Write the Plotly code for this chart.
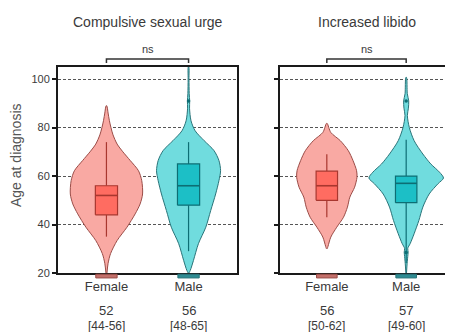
import plotly.graph_objects as go

# ---------------- data ----------------
panels = ["Compulsive sexual urge", "Increased libido"]
groups = ["Female", "Male"]

# violin outline profiles: age -> half width (x units)
csu_f_age = [20, 24, 28, 33.4, 38.9, 44.4, 48.5, 52.6, 58.1, 62.2, 66.4, 70, 73.2, 77, 80, 83, 86, 89]
csu_f_hw = [0.006, 0.02, 0.05, 0.13, 0.25, 0.35, 0.41, 0.44, 0.43, 0.39, 0.29, 0.2, 0.13, 0.08, 0.055, 0.035, 0.02, 0.004]
csu_m_age = [20, 21, 25.2, 32.1, 38.9, 45.8, 52.6, 58.1, 62.2, 66.4, 70.5, 74.6, 78.7, 82.8, 88, 91, 94, 100, 105]
csu_m_hw = [0.004, 0.02, 0.06, 0.12, 0.21, 0.27, 0.33, 0.37, 0.39, 0.37, 0.31, 0.19, 0.08, 0.03, 0.012, 0.014, 0.008, 0.005, 0.003]
il_f_age = [30, 31, 34.8, 38.9, 43, 47.2, 51.3, 55.4, 59.5, 62.2, 66.4, 70.5, 74.6, 78, 81.7]
il_f_hw = [0.005, 0.015, 0.05, 0.125, 0.21, 0.26, 0.29, 0.35, 0.38, 0.375, 0.33, 0.27, 0.17, 0.05, 0.005]
il_m_age = [20, 24, 27.5, 28.6, 30.2, 32.1, 36.2, 41.7, 47.2, 52.6, 56.8, 59.2, 61.6, 65, 69.1, 74.6, 80, 85, 88, 91, 94, 100.7]
il_m_hw = [0.004, 0.012, 0.022, 0.025, 0.02, 0.05, 0.10, 0.16, 0.21, 0.29, 0.40, 0.47, 0.42, 0.31, 0.21, 0.10, 0.04, 0.015, 0.028, 0.032, 0.014, 0.004]

# box statistics [Female, Male]
csu_low = [35, 29]
csu_q1 = [44, 48]
csu_med = [52, 56]
csu_q3 = [56, 65]
csu_up = [74, 74]
il_low = [43, 24]
il_q1 = [50, 49]
il_med = [56, 57]
il_q3 = [62, 60]
il_up = [69, 75]

csu_out_x = [1]
csu_out_y = [91]
il_out_x = [1, 1]
il_out_y = [91, 28.5]

csu_medians = ["52", "56"]
csu_iqr = ["[44-56]", "[48-65]"]
il_medians = ["56", "57"]
il_iqr = ["[50-62]", "[49-60]"]
sig_labels = ["ns", "ns"]
y_ticks = [20, 40, 60, 80, 100]

# ---------------- style ----------------
violin_fill = ["#F9A9A3", "#70DCDE"]
violin_line = ["#9A4C47", "#2A7479"]
box_fill = ["#FF6C61", "#1CBFC6"]
box_line = ["#A8372F", "#0D6E74"]
bar_fill = ["#C4706B", "#2E8C93"]
FONT = "Liberation Sans, Arial, sans-serif"
TXT = "#3a3a3a"
BOX_HALF = 0.135

# the page body has an 8px margin, so the figure is laid out 8px up/left
W, H = 445, 324
OFF = 8

fig = go.Figure()

profiles = [[(csu_f_age, csu_f_hw), (csu_m_age, csu_m_hw)],
            [(il_f_age, il_f_hw), (il_m_age, il_m_hw)]]
stats = [(csu_low, csu_q1, csu_med, csu_q3, csu_up), (il_low, il_q1, il_med, il_q3, il_up)]
outs = [(csu_out_x, csu_out_y), (il_out_x, il_out_y)]
axes = [("x", "y"), ("x2", "y2")]

for p in range(2):
    xa, ya = axes[p]
    for g in range(2):
        ages, hw = profiles[p][g]
        xs = [g + w for w in hw] + [g - w for w in reversed(hw)]
        ys = list(ages) + list(reversed(ages))
        fig.add_trace(go.Scatter(x=xs, y=ys, mode="lines", fill="toself",
                                 fillcolor=violin_fill[g],
                                 line=dict(color=violin_line[g], width=1, shape="spline", smoothing=0.8),
                                 xaxis=xa, yaxis=ya, showlegend=False, hoverinfo="skip"))
        low, q1, med, q3, up = stats[p]
        # whiskers
        fig.add_trace(go.Scatter(x=[g, g, None, g, g], y=[low[g], q1[g], None, q3[g], up[g]],
                                 mode="lines", line=dict(color=box_line[g], width=1.2),
                                 xaxis=xa, yaxis=ya, showlegend=False, hoverinfo="skip"))
        # box
        fig.add_trace(go.Scatter(x=[g - BOX_HALF, g + BOX_HALF, g + BOX_HALF, g - BOX_HALF, g - BOX_HALF],
                                 y=[q1[g], q1[g], q3[g], q3[g], q1[g]],
                                 mode="lines", fill="toself", fillcolor=box_fill[g],
                                 line=dict(color=box_line[g], width=1.2),
                                 xaxis=xa, yaxis=ya, showlegend=False, hoverinfo="skip"))
        # median
        fig.add_trace(go.Scatter(x=[g - BOX_HALF, g + BOX_HALF], y=[med[g], med[g]],
                                 mode="lines", line=dict(color=box_line[g], width=1.6),
                                 xaxis=xa, yaxis=ya, showlegend=False, hoverinfo="skip"))
    ox, oy = outs[p]
    fig.add_trace(go.Scatter(x=ox, y=oy, mode="markers",
                             marker=dict(color=box_line[1], size=3.5),
                             xaxis=xa, yaxis=ya, showlegend=False))

xrange_ = [-0.59, 1.59]
common_x = dict(range=xrange_, tickvals=[0, 1], ticktext=groups, showgrid=False,
                zeroline=False, showline=True, linecolor="#1a1a1a", linewidth=2,
                mirror=True, ticks="", ticklen=0,
                tickfont=dict(family=FONT, size=13, color=TXT))
common_y = dict(range=[20, 105], tickvals=y_ticks, showgrid=True, gridcolor="#555555",
                griddash="3px,2px", gridwidth=1, zeroline=False, showline=True,
                linecolor="#1a1a1a", linewidth=2, ticks="outside", ticklen=4,
                tickcolor="#1a1a1a", tickwidth=1.5,
                tickfont=dict(family=FONT, size=11, color=TXT))

fig.update_layout(
    width=W, height=H,
    margin=dict(l=0, r=0, t=67 - OFF, b=H - (273 - OFF)),
    plot_bgcolor="white", paper_bgcolor="white",
    xaxis=dict(domain=[(58 - OFF) / W, (237 - OFF) / W], anchor="y", **common_x),
    xaxis2=dict(domain=[(280 - OFF) / W, 1.0], anchor="y2", **common_x),
    yaxis=dict(anchor="x", mirror=True, **common_y),
    yaxis2=dict(anchor="x2", mirror=False, showticklabels=False, **common_y),
)

medians = [csu_medians, il_medians]
iqrs = [csu_iqr, il_iqr]
shapes = []
annotations = []
for p in range(2):
    xa = axes[p][0]
    annotations.append(dict(text=panels[p], xref=f"{xa} domain", yref="paper",
                            x=0.5, y=1.218, showarrow=False, yanchor="middle",
                            font=dict(family=FONT, size=14, color=TXT)))
    shapes.append(dict(type="path", xref=xa, yref="paper",
                       path="M 0,1.02 L 0,1.039 L 1,1.039 L 1,1.02",
                       line=dict(color="#333333", width=1.5)))
    annotations.append(dict(text=sig_labels[p], xref=xa, yref="paper", x=0.5, y=1.087,
                            showarrow=False, yanchor="middle",
                            font=dict(family=FONT, size=11, color=TXT)))
    for g in range(2):
        shapes.append(dict(type="rect", xref=xa, yref="paper", x0=g - 0.13, x1=g + 0.13,
                           y0=-0.024, y1=-0.006, fillcolor=bar_fill[g],
                           line=dict(color=violin_line[g], width=1)))
        annotations.append(dict(text=medians[p][g], xref=xa, yref="paper", x=g, y=-0.184,
                                showarrow=False, yanchor="middle",
                                font=dict(family=FONT, size=13, color=TXT)))
        annotations.append(dict(text=iqrs[p][g], xref=xa, yref="paper", x=g, y=-0.257,
                                showarrow=False, yanchor="middle",
                                font=dict(family=FONT, size=12, color=TXT)))

annotations.append(dict(text="Age at diagnosis", xref="paper", yref="paper",
                        x=(16 - OFF) / W, y=(273 - 155) / 206, xanchor="center", yanchor="middle",
                        textangle=-90, showarrow=False,
                        font=dict(family=FONT, size=14, color="#555555")))

fig.update_layout(shapes=shapes, annotations=annotations)
fig.write_html("out.html")
